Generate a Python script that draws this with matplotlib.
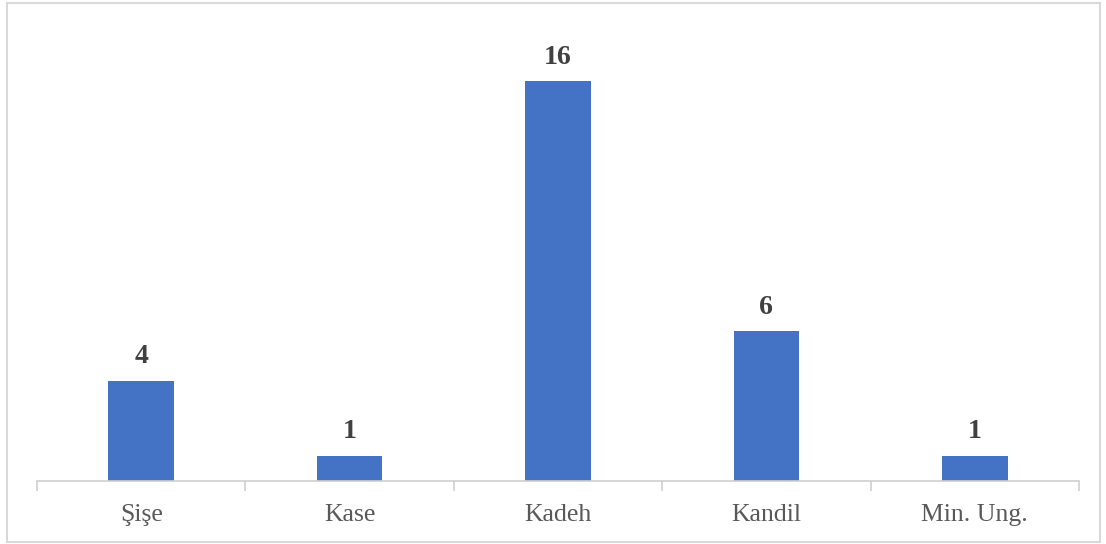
import matplotlib.pyplot as plt
from matplotlib.patches import Rectangle

categories = ["Şişe", "Kase", "Kadeh", "Kandil", "Min. Ung."]
values = [4, 1, 16, 6, 1]

W, H = 1106, 544
fig = plt.figure(figsize=(W / 100, H / 100), dpi=100)
plt.rcParams['font.family'] = ['Liberation Serif', 'DejaVu Serif']

# outer chart border
fig.patches.append(Rectangle((7 / W, 2.5 / H), 1093 / W, 538.5 / H, transform=fig.transFigure,
                             fill=False, edgecolor="#d9d9d9", linewidth=1.5))

ax = fig.add_axes([37 / W, (H - 480.5) / H, 1042 / W, 449 / H])
x = range(len(categories))
bars = ax.bar(x, values, width=0.315, color="#4472C4")
ax.set_xlim(-0.5, len(categories) - 0.5)
ax.set_ylim(0, 18)

for xi, v in zip(x, values):
    ax.text(xi, v + 0.45, str(v), ha="center", va="bottom", fontsize=20,
            fontweight="bold", color="#404040")

for s in ["top", "right", "left"]:
    ax.spines[s].set_visible(False)
ax.spines["bottom"].set_color("#d0d0d0")
ax.spines["bottom"].set_linewidth(1.2)
ax.set_yticks([])
ax.set_xticks([i - 0.5 for i in range(len(categories) + 1)], minor=False)
ax.set_xticklabels([])
ax.tick_params(axis="x", which="major", length=7, color="#d0d0d0", width=1.2)
ax.set_xticks(list(x), minor=True)
ax.set_xticklabels(categories, minor=True, fontsize=18.5, color="#595959")
ax.tick_params(axis="x", which="minor", length=0, pad=17)

fig.savefig("out.png", dpi=100)
